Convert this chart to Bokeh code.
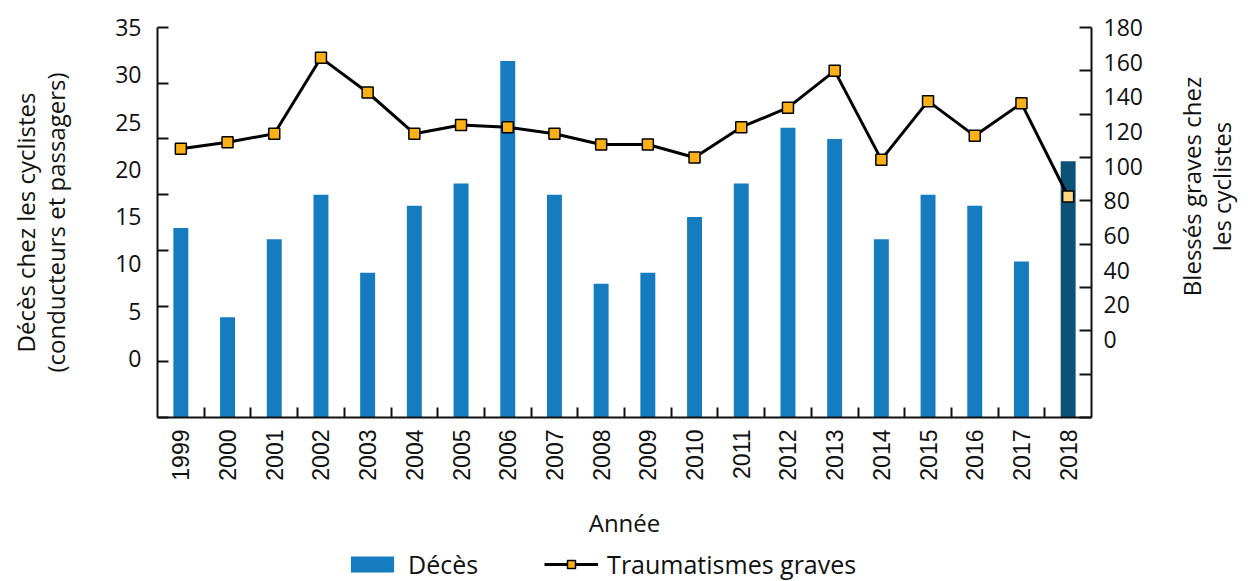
import math
from bokeh.plotting import figure
from bokeh.layouts import row, column
from bokeh.models import (Range1d, LinearAxis, FixedTicker, Label,
                          CustomJSTickFormatter, Legend, LegendItem, ColumnDataSource)
from bokeh.embed import file_html
from bokeh.resources import INLINE

# ---- data ----
years = ["1999", "2000", "2001", "2002", "2003", "2004", "2005", "2006", "2007", "2008",
         "2009", "2010", "2011", "2012", "2013", "2014", "2015", "2016", "2017", "2018"]
deces = [17, 9, 16, 20, 13, 19, 21, 32, 20, 12, 13, 18, 21, 26, 25, 16, 20, 19, 14, 23]
traumatismes = [124, 127, 131, 166, 150, 131, 135, 134, 131, 126,
                126, 120, 134, 143, 160, 119, 146, 130, 145, 102]
left_ticks = [0, 5, 10, 15, 20, 25, 30, 35]
right_ticks = [0, 20, 40, 60, 80, 100, 120, 140, 160, 180]
highlight_year = "2018"
left_title = "Décès chez les cyclistes\n(conducteurs et passagers)"
right_title = "Blessés graves chez\nles cyclistes"
x_title = "Année"
series_names = ["Décès", "Traumatismes graves"]

# ---- styles ----
INK = "#111111"
BAR = "#157cc0"
BAR_HI = "#0b5178"
MARK = "#fbb116"
MARK_HI = "#fed47e"
TFONT = "Open Sans"
XFONT = "Liberation Sans"

n = len(years)
xpos = [i + 0.5 for i in range(n)]          # category slot centres
bounds = list(range(1, n))                  # slot boundaries
bar_colors = [BAR_HI if y == highlight_year else BAR for y in years]
mark_colors = [MARK_HI if y == highlight_year else MARK for y in years]

src = ColumnDataSource(dict(x=xpos, year=years, deces=deces, trauma=traumatismes,
                            bc=bar_colors, mc=mark_colors))

W_MAIN, H_MAIN = 1160, 545
FRAME_TOP, FRAME_BOTTOM_BORDER = 27, 128
p = figure(x_range=Range1d(0, n), y_range=Range1d(0, 35),
           width=W_MAIN, height=H_MAIN, output_backend="svg", toolbar_location=None,
           x_axis_location=None, y_axis_location=None,
           min_border_left=157, min_border_right=69, min_border_top=FRAME_TOP,
           min_border_bottom=FRAME_BOTTOM_BORDER)
p.outline_line_color = None
p.grid.visible = False

p.extra_y_ranges = {"right": Range1d(0, 180),
                    "leftlab": Range1d(-6.25, 35),
                    "rightlab": Range1d(-45, 180)}

blank = CustomJSTickFormatter(code="return ''")

# left tick axis
lt = LinearAxis(ticker=FixedTicker(ticks=left_ticks), formatter=blank,
                major_tick_in=11, major_tick_out=0, minor_tick_in=0, minor_tick_out=0,
                major_label_standoff=0, major_label_text_font_size="1px",
                axis_line_width=2, major_tick_line_width=2,
                axis_line_color=INK, major_tick_line_color=INK)
p.add_layout(lt, "left")
# left label axis
ll = LinearAxis(y_range_name="leftlab", ticker=FixedTicker(ticks=left_ticks),
                axis_line_color=None, major_tick_line_color=None, minor_tick_line_color=None,
                major_label_standoff=10, major_label_text_font=TFONT,
                major_label_text_font_size="23px", major_label_text_color=INK,
                axis_label=left_title,
                axis_label_standoff=40, axis_label_text_font=TFONT,
                axis_label_text_font_size="24px", axis_label_text_font_style="normal",
                axis_label_text_line_height=0.9,
                axis_label_text_color=INK)
p.add_layout(ll, "left")

# right tick axis
rt = LinearAxis(y_range_name="right", ticker=FixedTicker(ticks=right_ticks), formatter=blank,
                major_tick_in=12, major_tick_out=0, minor_tick_in=0, minor_tick_out=0,
                major_label_standoff=0, major_label_text_font_size="1px",
                axis_line_width=2, major_tick_line_width=2,
                axis_line_color=INK, major_tick_line_color=INK)
p.add_layout(rt, "right")
rl = LinearAxis(y_range_name="rightlab", ticker=FixedTicker(ticks=right_ticks),
                axis_line_color=None, major_tick_line_color=None, minor_tick_line_color=None,
                major_label_standoff=6, major_label_text_font=TFONT,
                major_label_text_font_size="23px", major_label_text_color=INK)
p.add_layout(rl, "right")

# bottom axis: year labels at slot centres, tick marks at slot boundaries
year_fmt = CustomJSTickFormatter(args=dict(years=years),
                                 code="return years[Math.floor(tick)]")
xa = LinearAxis(ticker=FixedTicker(ticks=xpos, minor_ticks=bounds), formatter=year_fmt,
                major_tick_in=0, major_tick_out=0, minor_tick_in=10, minor_tick_out=0,
                axis_line_width=2, minor_tick_line_width=2,
                axis_line_color=INK, minor_tick_line_color=INK,
                major_label_orientation=math.pi / 2, major_label_standoff=12,
                major_label_text_font=XFONT, major_label_text_font_size="23px",
                major_label_text_color=INK,
                axis_label=x_title, axis_label_standoff=22,
                axis_label_text_font=TFONT, axis_label_text_font_size="24px",
                axis_label_text_font_style="normal", axis_label_text_color=INK)
p.add_layout(xa, "below")

p.vbar(x="x", top="deces", width=0.32, bottom=0, source=src,
       fill_color="bc", line_color=None)
p.line(x="x", y="trauma", y_range_name="right", source=src,
       line_color="black", line_width=3)
p.scatter(x="x", y="trauma", y_range_name="right", source=src,
          marker="square", size=11, fill_color="mc", line_color="black", line_width=1.5)

# ---- right strip with the right-axis title (reads bottom-to-top) ----
# (its frame is aligned with the main frame by the row layout: 27..417 px)
W_R = 1248 - W_MAIN
pr = figure(width=W_R, height=H_MAIN, output_backend="svg", toolbar_location=None,
            x_range=Range1d(0, 1), y_range=Range1d(0, 1),
            x_axis_location=None, y_axis_location=None, min_border=0)
pr.outline_line_color = None
pr.grid.visible = False
pr.add_layout(Label(x=46, y=231, x_units="screen", y_units="screen",
                    text=right_title, angle=math.pi / 2, text_align="center",
                    text_baseline="middle", text_font=TFONT, text_font_size="24px",
                    text_color=INK, text_line_height=0.9))

# ---- bottom strip with the legend (proxy renderers kept outside its visible range) ----
H_B = 581 - H_MAIN
pb = figure(width=1248, height=H_B, output_backend="svg", toolbar_location=None,
            x_range=Range1d(-2, -1), y_range=Range1d(-2, -1),
            x_axis_location=None, y_axis_location=None, min_border=0)
pb.outline_line_color = None
pb.grid.visible = False
lb = pb.vbar(x="x", top="deces", width=0.32, source=src, fill_color=BAR, line_color=None)
ln = pb.line(x="x", y="trauma", source=src, line_color="black", line_width=3)
lm = pb.scatter(x="x", y="trauma", source=src, marker="square", size=16,
                fill_color=MARK, line_color="black", line_width=1.5)
legend = Legend(items=[LegendItem(label=series_names[0], renderers=[lb]),
                       LegendItem(label=series_names[1], renderers=[ln, lm])],
                orientation="horizontal", location=(345, 0),
                glyph_width=54, glyph_height=20, label_standoff=9, spacing=66,
                padding=0, margin=0, border_line_color=None, background_fill_alpha=0,
                label_text_font=TFONT, label_text_font_size="25px",
                label_text_color=INK)
pb.add_layout(legend)

layout = column(row(p, pr), pb)
open("out.html", "w").write(file_html(layout, INLINE))
